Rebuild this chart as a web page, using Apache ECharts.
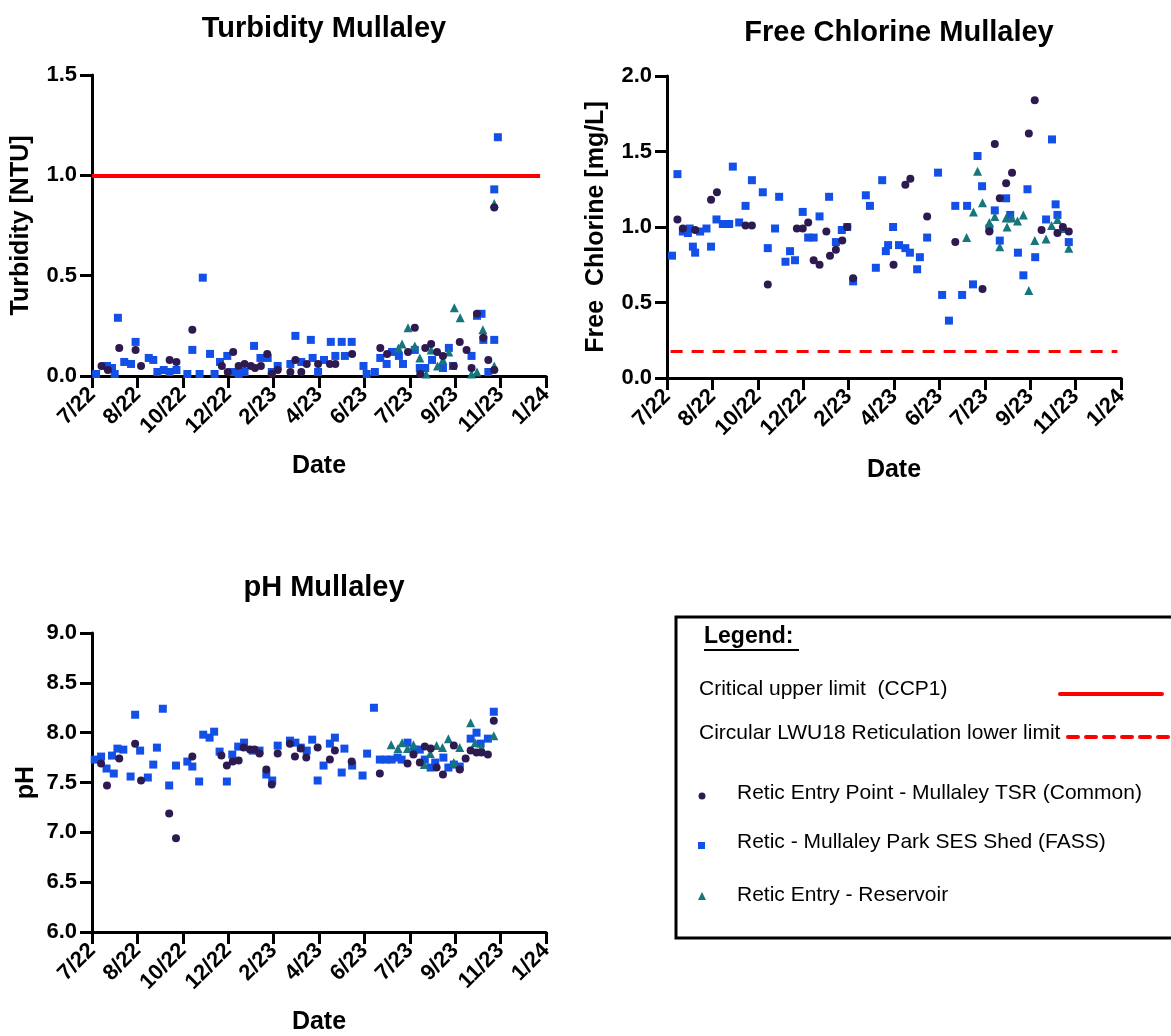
<!DOCTYPE html>
<html>
<head>
<meta charset="utf-8">
<script src="https://cdn.jsdelivr.net/npm/echarts@6/dist/echarts.min.js"></script>
<style>
  html, body { margin: 0; padding: 0; background: #fff; }
  #main { width: 1171px; height: 1036px; }
</style>
</head>
<body>
<div id="main"></div>
<script>
// x positions are in axis steps (0 = 7/22 ... 10 = 1/24)
const dateTicks = ['7/22', '8/22', '10/22', '12/22', '2/23', '4/23', '6/23', '7/23', '9/23', '11/23', '1/24'];

// Turbidity [NTU]
const turbTsr = [[0.21,0.05],[0.35,0.03],[0.60,0.14],[0.96,0.13],[1.08,0.05],[1.71,0.08],[1.86,0.07],[2.21,0.23],
  [2.86,0.05],[2.99,0.02],[3.11,0.12],[3.23,0.05],[3.36,0.06],[3.50,0.05],[3.59,0.04],[3.72,0.05],[3.86,0.11],
  [3.96,0.01],[4.09,0.03],[4.37,0.02],[4.48,0.08],[4.61,0.02],[4.73,0.06],[4.98,0.06],[5.24,0.06],[5.36,0.06],
  [5.73,0.11],[6.35,0.14],[6.50,0.11],[6.96,0.12],[7.11,0.24],[7.23,0.01],[7.34,0.14],[7.47,0.16],[7.60,0.12],
  [7.73,0.10],[7.97,0.05],[8.10,0.17],[8.25,0.13],[8.36,0.04],[8.48,0.31],[8.62,0.19],[8.73,0.08],[8.86,0.03],[8.86,0.84]];
const turbFass = [[0.09,0.01],[0.33,0.05],[0.44,0.04],[0.50,0.01],[0.57,0.29],[0.71,0.07],[0.86,0.06],[0.96,0.17],
  [1.25,0.09],[1.35,0.08],[1.44,0.02],[1.58,0.03],[1.71,0.02],[1.86,0.03],[2.10,0.01],[2.21,0.13],[2.37,0.01],
  [2.44,0.49],[2.60,0.11],[2.70,0.01],[2.82,0.07],[2.98,0.10],[3.11,0.02],[3.23,0.01],[3.36,0.02],[3.57,0.15],
  [3.71,0.09],[3.87,0.09],[3.96,0.02],[4.09,0.05],[4.37,0.06],[4.48,0.20],[4.61,0.07],[4.82,0.18],[4.86,0.09],
  [4.98,0.02],[5.11,0.08],[5.26,0.17],[5.36,0.10],[5.50,0.17],[5.57,0.10],[5.72,0.17],[5.98,0.05],[6.05,0.01],
  [6.23,0.02],[6.35,0.09],[6.49,0.06],[6.61,0.12],[6.76,0.10],[6.85,0.06],[7.11,0.13],[7.22,0.04],[7.34,0.04],
  [7.49,0.08],[7.73,0.04],[7.86,0.14],[7.95,0.05],[8.36,0.10],[8.48,0.30],[8.58,0.31],[8.62,0.18],[8.73,0.02],
  [8.86,0.18],[8.86,0.93],[8.94,1.19]];
const turbRes = [[6.75,0.14],[6.83,0.16],[6.96,0.24],[7.11,0.15],[7.22,0.09],[7.36,0.01],[7.47,0.13],[7.61,0.05],
  [7.73,0.08],[7.86,0.12],[7.98,0.34],[8.11,0.29],[8.36,0.01],[8.48,0.02],[8.61,0.23],[8.86,0.05],[8.86,0.86]];
const turbLimit = 1.0;

// Free chlorine [mg/L]
const clTsr = [[0.23,1.05],[0.35,0.99],[0.62,0.98],[0.97,1.18],[1.10,1.23],[1.73,1.01],[1.87,1.01],[2.22,0.62],
  [2.86,0.99],[2.99,0.99],[3.11,1.03],[3.23,0.78],[3.36,0.75],[3.51,0.97],[3.59,0.81],[3.72,0.85],[3.86,0.91],
  [3.97,1.00],[4.10,0.66],[4.99,0.75],[5.25,1.28],[5.36,1.32],[5.73,1.07],[6.35,0.90],[6.95,0.59],[7.10,0.97],
  [7.22,1.55],[7.33,1.19],[7.47,1.29],[7.60,1.36],[7.97,1.62],[8.10,1.84],[8.25,0.98],[8.60,0.96],[8.72,1.00],[8.85,0.97]];
const clFass = [[0.11,0.81],[0.23,1.35],[0.35,0.97],[0.46,0.96],[0.50,0.99],[0.57,0.87],[0.62,0.83],[0.73,0.97],
  [0.87,0.99],[0.97,0.87],[1.09,1.05],[1.23,1.02],[1.37,1.02],[1.45,1.40],[1.59,1.03],[1.73,1.14],[1.87,1.31],
  [2.11,1.23],[2.22,0.86],[2.38,0.99],[2.47,1.20],[2.61,0.77],[2.71,0.84],[2.82,0.78],[2.99,1.10],[3.11,0.93],
  [3.23,0.93],[3.36,1.07],[3.57,1.20],[3.72,0.90],[3.85,0.98],[3.97,1.00],[4.10,0.64],[4.38,1.21],[4.47,1.14],
  [4.60,0.73],[4.74,1.31],[4.82,0.84],[4.87,0.88],[4.98,1.00],[5.11,0.88],[5.25,0.86],[5.35,0.83],[5.51,0.72],
  [5.57,0.80],[5.73,0.93],[5.97,1.36],[6.06,0.55],[6.21,0.38],[6.35,1.14],[6.50,0.55],[6.61,1.14],[6.74,0.62],
  [6.84,1.47],[6.94,1.27],[7.10,0.99],[7.22,1.11],[7.33,0.91],[7.47,1.19],[7.56,1.08],[7.73,0.83],[7.85,0.68],
  [7.94,1.25],[8.11,0.80],[8.35,1.05],[8.48,1.58],[8.56,1.15],[8.60,1.08],[8.85,0.90]];
const clRes = [[6.60,0.93],[6.75,1.10],[6.84,1.37],[6.95,1.16],[7.10,1.03],[7.22,1.07],[7.33,0.87],[7.47,1.06],
  [7.49,1.00],[7.60,1.06],[7.72,1.04],[7.85,1.08],[7.97,0.58],[8.10,0.91],[8.35,0.92],[8.47,1.01],[8.60,1.05],
  [8.74,0.99],[8.85,0.86]];
const clLimit = 0.18;

// pH
const phTsr = [[0.20,7.69],[0.33,7.47],[0.60,7.74],[0.95,7.89],[1.08,7.52],[1.70,7.19],[1.85,6.94],[2.21,7.76],
  [2.85,7.77],[2.97,7.67],[3.10,7.71],[3.23,7.72],[3.34,7.85],[3.48,7.83],[3.58,7.83],[3.69,7.79],[3.84,7.63],
  [3.96,7.48],[4.09,7.79],[4.36,7.89],[4.47,7.76],[4.60,7.84],[4.72,7.75],[4.97,7.85],[5.24,7.73],[5.35,7.82],
  [5.72,7.71],[6.34,7.59],[6.95,7.69],[7.08,7.78],[7.22,7.70],[7.33,7.86],[7.46,7.84],[7.59,7.65],[7.73,7.58],
  [7.97,7.87],[8.10,7.63],[8.23,7.74],[8.34,7.82],[8.47,7.80],[8.58,7.80],[8.72,7.78],[8.85,8.12]];
const phFass = [[0.06,7.73],[0.20,7.76],[0.32,7.64],[0.44,7.77],[0.48,7.59],[0.56,7.84],[0.69,7.83],[0.85,7.56],
  [0.95,8.18],[1.06,7.82],[1.23,7.55],[1.35,7.68],[1.43,7.85],[1.56,8.24],[1.70,7.47],[1.85,7.67],[2.10,7.71],
  [2.21,7.66],[2.36,7.51],[2.45,7.98],[2.59,7.95],[2.69,8.01],[2.81,7.81],[2.97,7.51],[3.09,7.78],[3.22,7.86],
  [3.35,7.90],[3.54,7.82],[3.69,7.82],[3.84,7.58],[3.97,7.52],[4.09,7.87],[4.36,7.92],[4.48,7.90],[4.60,7.85],
  [4.73,7.82],[4.85,7.93],[4.97,7.52],[5.10,7.67],[5.24,7.89],[5.35,7.95],[5.50,7.60],[5.56,7.84],[5.73,7.67],
  [5.96,7.57],[6.06,7.79],[6.21,8.25],[6.34,7.73],[6.47,7.73],[6.60,7.73],[6.73,7.75],[6.82,7.73],[6.95,7.90],
  [7.10,7.83],[7.22,7.83],[7.33,7.73],[7.46,7.65],[7.56,7.70],[7.74,7.75],[7.85,7.65],[7.97,7.68],[8.10,7.66],
  [8.34,7.94],[8.47,8.00],[8.56,7.89],[8.72,7.94],[8.85,8.21]];
const phRes = [[6.59,7.88],[6.74,7.84],[6.83,7.90],[6.95,7.84],[7.08,7.88],[7.32,7.68],[7.45,7.79],[7.59,7.87],
  [7.72,7.85],[7.85,7.94],[7.97,7.70],[8.10,7.85],[8.34,8.10],[8.44,7.90],[8.58,7.85],[8.85,7.97]];

const seriesNames = [
  'Retic Entry Point - Mullaley TSR (Common)',
  'Retic - Mullaley Park SES Shed (FASS)',
  'Retic Entry - Reservoir',
];
const limitNames = ['Critical upper limit  (CCP1)', 'Circular LWU18 Reticulation lower limit'];

const colors = { tsr: '#2d1a50', fass: '#1350e8', res: '#16767c', limit: '#ff0000' };
const FONT = 'Liberation Sans, Arial, sans-serif';

const chart = echarts.init(document.getElementById('main'));

const grids = [
  { left: 92, top: 75, width: 454, height: 301 },
  { left: 667, top: 76, width: 454, height: 302 },
  { left: 92, top: 633, width: 454, height: 302 },
];

const axisStyle = {
  axisLine: { show: true, onZero: false, lineStyle: { color: '#000', width: 3 } },
  axisTick: { show: true, inside: false, length: 12, lineStyle: { color: '#000', width: 3 } },
  splitLine: { show: false },
};

function xAxis(gridIndex, gap) {
  return {
    gridIndex, type: 'value', min: 0, max: 10, interval: 1,
    name: 'Date', nameLocation: 'middle', nameGap: gap,
    nameTextStyle: { fontFamily: FONT, fontWeight: 'bold', fontSize: 25, color: '#000' },
    axisLabel: {
      rotate: 45, margin: 15, fontFamily: FONT, fontWeight: 'bold', fontSize: 22, color: '#000',
      formatter: v => dateTicks[Math.round(v)] || '',
    },
    ...axisStyle,
  };
}

function yAxis(gridIndex, min, max, interval, name, gap) {
  return {
    gridIndex, type: 'value', min, max, interval,
    name, nameLocation: 'middle', nameGap: gap, nameRotate: 90,
    nameTextStyle: { fontFamily: FONT, fontWeight: 'bold', fontSize: 25, color: '#000' },
    axisLabel: {
      margin: 15, fontFamily: FONT, fontWeight: 'bold', fontSize: 22, color: '#000',
      formatter: v => v.toFixed(1),
    },
    ...axisStyle,
  };
}

function scatterSet(idx, tsr, fass, res) {
  return [
    { name: seriesNames[1], type: 'scatter', xAxisIndex: idx, yAxisIndex: idx, data: fass,
      symbol: 'rect', symbolSize: 8, itemStyle: { color: colors.fass, opacity: 1 } },
    { name: seriesNames[2], type: 'scatter', xAxisIndex: idx, yAxisIndex: idx, data: res,
      symbol: 'triangle', symbolSize: 9, itemStyle: { color: colors.res, opacity: 1 } },
    { name: seriesNames[0], type: 'scatter', xAxisIndex: idx, yAxisIndex: idx, data: tsr,
      symbol: 'circle', symbolSize: 8, itemStyle: { color: colors.tsr, opacity: 1 } },
  ];
}

const series = [
  ...scatterSet(0, turbTsr, turbFass, turbRes),
  ...scatterSet(1, clTsr, clFass, clRes),
  ...scatterSet(2, phTsr, phFass, phRes),
];

// limit lines
series.push({
  type: 'line', xAxisIndex: 0, yAxisIndex: 0, data: [],
  markLine: {
    silent: true, symbol: 'none', label: { show: false },
    lineStyle: { color: colors.limit, width: 4, type: 'solid' },
    data: [[{ coord: [0, turbLimit] }, { coord: [9.87, turbLimit] }]],
  },
});
series.push({
  type: 'line', xAxisIndex: 1, yAxisIndex: 1, data: [],
  markLine: {
    silent: true, symbol: 'none', label: { show: false },
    lineStyle: { color: colors.limit, width: 3, type: [12, 9] },
    data: [[{ coord: [0.08, clLimit] }, { coord: [9.92, clLimit] }]],
  },
});

const titleStyle = { fontFamily: FONT, fontWeight: 'bold', fontSize: 29, color: '#000' };

const legendText = { fontFamily: FONT, fontSize: 21, fill: '#000' };

const option = {
  backgroundColor: '#fff',
  animation: false,
  title: [
    { text: 'Turbidity Mullaley', left: 319, top: 9, textAlign: 'center', textStyle: titleStyle },
    { text: 'Free Chlorine Mullaley', left: 894, top: 13, textAlign: 'center', textStyle: titleStyle },
    { text: 'pH Mullaley', left: 319, top: 568, textAlign: 'center', textStyle: titleStyle },
  ],
  grid: grids,
  xAxis: [xAxis(0, 78), xAxis(1, 80), xAxis(2, 78)],
  yAxis: [
    yAxis(0, 0, 1.5, 0.5, 'Turbidity [NTU]', 58),
    yAxis(1, 0, 2.0, 0.5, 'Free  Chlorine [mg/L]', 58),
    yAxis(2, 6.0, 9.0, 0.5, 'pH', 53),
  ],
  series,
  graphic: [
    { type: 'rect', shape: { x: 676, y: 617, width: 520, height: 321 },
      style: { fill: 'none', stroke: '#000', lineWidth: 3 } },
    { type: 'text', x: 704, y: 625,
      style: { text: 'Legend:', fontFamily: FONT, fontWeight: 'bold', fontSize: 23, fill: '#000' } },
    { type: 'line', shape: { x1: 704, y1: 650, x2: 799, y2: 650 }, style: { stroke: '#000', lineWidth: 2 } },
    { type: 'text', x: 699, y: 679, style: { text: limitNames[0], ...legendText } },
    { type: 'line', shape: { x1: 1060, y1: 694, x2: 1162, y2: 694 },
      style: { stroke: colors.limit, lineWidth: 4, lineCap: 'round' } },
    { type: 'text', x: 699, y: 723, style: { text: limitNames[1], ...legendText } },
    { type: 'line', shape: { x1: 1068, y1: 737, x2: 1171, y2: 737 },
      style: { stroke: colors.limit, lineWidth: 4, lineDash: [10, 8], lineCap: 'round' } },
    { type: 'circle', shape: { cx: 702, cy: 796, r: 3.5 }, style: { fill: colors.tsr } },
    { type: 'text', x: 737, y: 783, style: { text: seriesNames[0], ...legendText } },
    { type: 'rect', shape: { x: 698, y: 842, width: 7, height: 7 }, style: { fill: colors.fass } },
    { type: 'text', x: 737, y: 832, style: { text: seriesNames[1], ...legendText } },
    { type: 'polygon', shape: { points: [[702, 892], [698, 900], [706, 900]] }, style: { fill: colors.res } },
    { type: 'text', x: 737, y: 885, style: { text: seriesNames[2], ...legendText } },
  ],
};

chart.setOption(option);
</script>
</body>
</html>
